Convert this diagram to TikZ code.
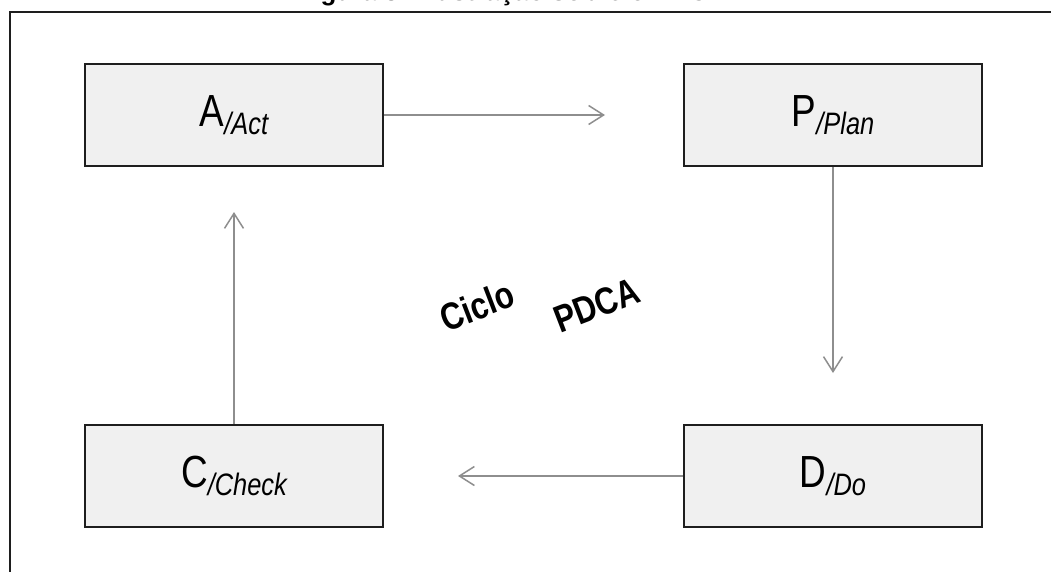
\documentclass[tikz,border=0pt]{standalone}
\usepackage{fontspec}
\setmainfont{Liberation Sans}
\newfontfamily\labfont[FakeStretch=0.82]{Liberation Sans}
\newfontfamily\cicfont[FakeStretch=0.82]{Liberation Sans}
\usetikzlibrary{arrows.meta}
\definecolor{boxfill}{HTML}{F0F0F0}
\definecolor{boxline}{HTML}{1E1E1E}
\definecolor{arrowgray}{HTML}{8E8E8E}
\tikzset{
  stagebox/.style={draw=boxline, line width=2pt, fill=boxfill, minimum width=298pt,
    minimum height=102pt, inner sep=0pt, font=\labfont},
  flow/.style={draw=arrowgray, line width=1.5pt,
    -{Straight Barb[length=15pt,width=19pt,line width=1.5pt]}},
  bigword/.style={rotate=21, inner sep=0pt, font=\cicfont\bfseries\fontsize{38}{38}\selectfont}
}
\newcommand{\stagelabel}[2]{{\fontsize{45}{45}\selectfont #1}\raisebox{-8pt}{\fontsize{31}{31}\selectfont\itshape /#2}}
\begin{document}
\begin{tikzpicture}[x=1pt,y=-1pt]
  \useasboundingbox (0,0) rectangle (1051,572);
  \clip (0,0) rectangle (1051,572);
  % title (cut off at the top)
  \node[anchor=base, inner sep=0pt, font=\bfseries\fontsize{26}{26}\selectfont] (title) at (512,1) {Figura 3 - Ilustração sobre o PDCA};
  % frame
  \draw[line width=2pt, boxline] (10,590) -- (10,12) -- (1070,12);
  % stages
  \node[stagebox] (A) at (234,115) {\stagelabel{A}{Act}};
  \node[stagebox] (P) at (833,115) {\stagelabel{P}{Plan}};
  \node[stagebox] (D) at (833,476) {\stagelabel{D}{Do}};
  \node[stagebox] (C) at (234,476) {\stagelabel{C}{Check}};
  % arrow ends
  \coordinate (aP) at (605,115);
  \coordinate (aD) at (833,373);
  \coordinate (aC) at (458,476);
  \coordinate (aA) at (234,212);
  \draw[flow] (A.east) -- (aP);
  \draw[flow] (P.south) -- (aD);
  \draw[flow] (D.west) -- (aC);
  \draw[flow] (C.north) -- (aA);
  % center text
  \node[bigword] (ciclo) at (477,306) {Ciclo};
  \node[bigword] (pdca) at (597,305) {PDCA};
\end{tikzpicture}
\end{document}
